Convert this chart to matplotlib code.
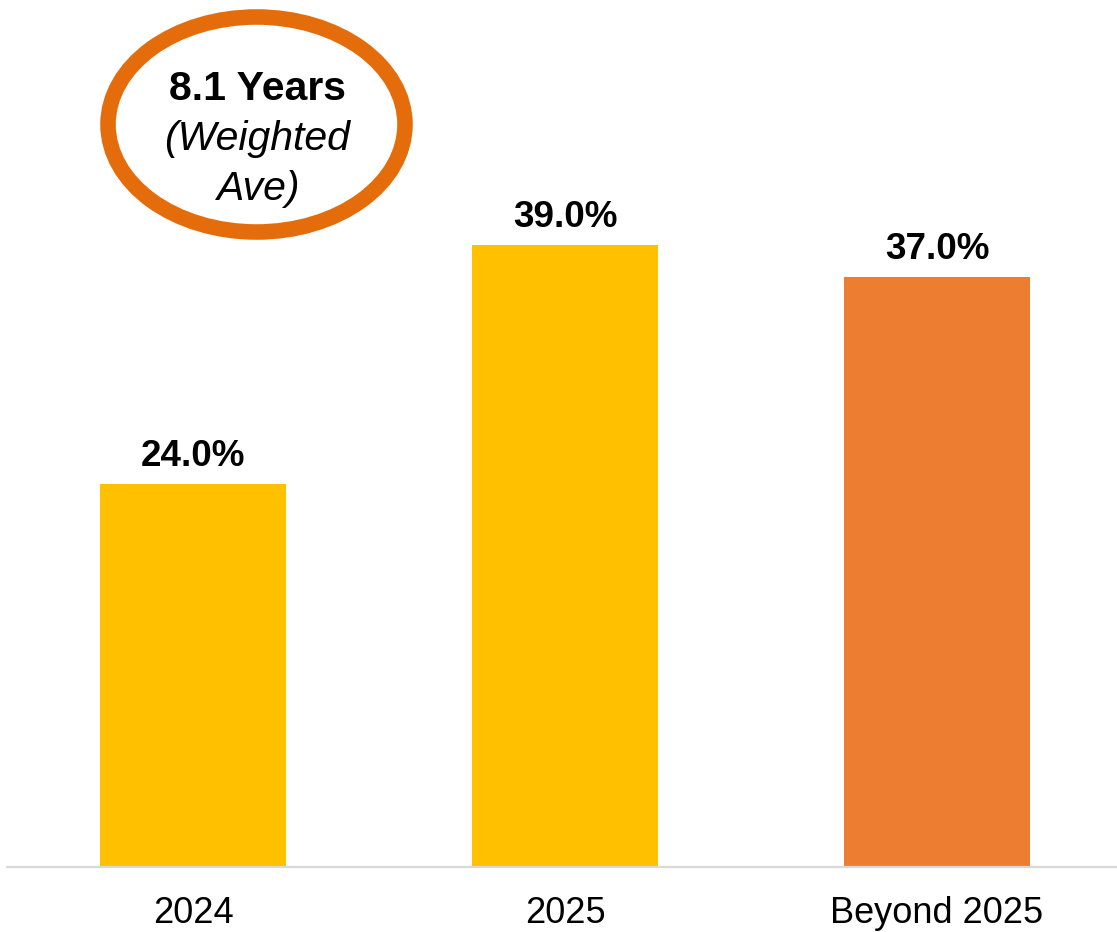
import matplotlib.pyplot as plt
from matplotlib.patches import Ellipse

categories = ['2024', '2025', 'Beyond 2025']
shares = [24.0, 39.0, 37.0]
bar_colors = ['#FFC000', '#FFC000', '#ED7D31']
callout_lines = ['8.1 Years', '(Weighted', 'Ave)']

plt.rcParams['font.family'] = ['Liberation Sans', 'DejaVu Sans']

W, H = 1117, 932
fig = plt.figure(figsize=(W / 100, H / 100), dpi=100)
ax = fig.add_axes([7 / W, 65 / H, 1 - 7 / W, 867 / H])

x = range(len(categories))
ax.bar(x, shares, width=0.5, color=bar_colors, zorder=2)

for xi, v in zip(x, shares):
    ax.annotate(f'{v:.1f}%', (xi, v), xytext=(0, 13), textcoords='offset points',
                ha='center', va='baseline', fontsize=26.6, fontweight='bold')

ax.set_xlim(-0.5, 2.484)
ax.set_ylim(0, 54.36)
ax.set_xticks(list(x))
ax.set_xticklabels(categories, fontsize=26)
ax.tick_params(axis='x', length=0, pad=21)
ax.set_yticks([])
for side in ['left', 'right', 'top']:
    ax.spines[side].set_visible(False)
ax.spines['bottom'].set_color('#D9D9D9')
ax.spines['bottom'].set_linewidth(1.6)

# weighted average callout
fig.add_artist(Ellipse((256.5 / W, 1 - 124.5 / H), 297 / W, 215 / H,
                       transform=fig.transFigure, fill=False,
                       edgecolor='#E46C0A', linewidth=11.2))
styles = [('normal', 'bold'), ('italic', 'normal'), ('italic', 'normal')]
for i, (line, (st, wt)) in enumerate(zip(callout_lines, styles)):
    fig.text(257.5 / W, 1 - (100 + 50 * i) / H, line, ha='center', va='baseline',
             fontsize=29.5, fontstyle=st, fontweight=wt)

fig.savefig('out.png', dpi=100)
